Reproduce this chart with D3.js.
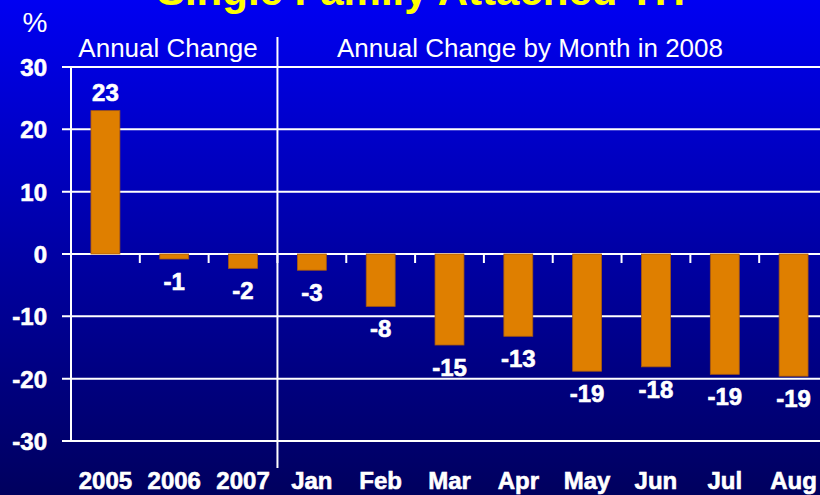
<!DOCTYPE html>
<html>
<head>
<meta charset="utf-8">
<script src="https://cdn.jsdelivr.net/npm/d3@7"></script>
<style>
    html, body { margin: 0; padding: 0; background: #000080; overflow: hidden; }
    svg { display: block; font-family: "Liberation Sans", Arial, sans-serif; }
</style>
</head>
<body>
<div id="chart"></div>
<script>
// Chart data
const categories = ['2005', '2006', '2007', 'Jan', 'Feb', 'Mar', 'Apr', 'May', 'Jun', 'Jul', 'Aug'];
const values = [23, -0.8, -2.3, -2.6, -8.4, -14.6, -13.2, -18.8, -18.1, -19.3, -19.6];
const valueLabels = ['23', '-1', '-2', '-3', '-8', '-15', '-13', '-19', '-18', '-19', '-19'];
const yTicks = [30, 20, 10, 0, -10, -20, -30];
const titleText = 'Single Family Attached TH';
const groupLabels = ['Annual Change', 'Annual Change by Month in 2008'];

const width = 820;
const height = 495;

const svg = d3.select('#chart')
    .append('svg')
    .attr('width', width)
    .attr('height', height);

// Background gradient
const grad = svg.append('defs')
    .append('linearGradient')
    .attr('id', 'bg')
    .attr('x1', 0).attr('y1', 0)
    .attr('x2', 0).attr('y2', 1);
grad.append('stop').attr('offset', '0%').attr('stop-color', '#0000F2');
grad.append('stop').attr('offset', '50%').attr('stop-color', '#0000A6');
grad.append('stop').attr('offset', '100%').attr('stop-color', '#00005E');

svg.append('rect')
    .attr('width', width)
    .attr('height', height)
    .attr('fill', 'url(#bg)');

// Scales
const x = d3.scaleBand()
    .domain(categories)
    .range([71, 828])
    .paddingInner(0.58)
    .paddingOuter(0.29);

const y = d3.scaleLinear()
    .domain([-30, 30])
    .range([441, 67]);

const step = x.step();
const bandStart = d => x(d) - (step - x.bandwidth()) / 2;

// Gridlines
svg.append('g')
    .selectAll('line')
    .data(yTicks)
    .enter()
    .append('line')
    .attr('x1', 62)
    .attr('x2', width)
    .attr('y1', d => y(d))
    .attr('y2', d => y(d))
    .attr('stroke', '#ffffff')
    .attr('stroke-width', 2);

// Y axis line
svg.append('line')
    .attr('x1', 71).attr('x2', 71)
    .attr('y1', y(30)).attr('y2', y(-30))
    .attr('stroke', '#ffffff')
    .attr('stroke-width', 2);

// Divider between annual and monthly
const divX = bandStart('Jan');
svg.append('line')
    .attr('x1', divX).attr('x2', divX)
    .attr('y1', 37).attr('y2', 468)
    .attr('stroke', '#ffffff')
    .attr('stroke-width', 2);

// Tick marks under the zero line
svg.append('g')
    .selectAll('line')
    .data(categories.slice(1))
    .enter()
    .append('line')
    .attr('x1', d => bandStart(d))
    .attr('x2', d => bandStart(d))
    .attr('y1', y(0))
    .attr('y2', y(0) + 9)
    .attr('stroke', '#ffffff')
    .attr('stroke-width', 2);

// Bars
svg.append('g')
    .selectAll('rect')
    .data(values)
    .enter()
    .append('rect')
    .attr('x', (d, i) => x(categories[i]))
    .attr('y', d => y(Math.max(0, d)))
    .attr('width', x.bandwidth())
    .attr('height', d => Math.abs(y(d) - y(0)))
    .attr('fill', '#DF7F00')
    .attr('stroke', '#A85A10')
    .attr('stroke-width', 0.8);

// Value labels
svg.append('g')
    .selectAll('text')
    .data(values)
    .enter()
    .append('text')
    .attr('x', (d, i) => x(categories[i]) + x.bandwidth() / 2)
    .attr('y', d => d >= 0 ? y(d) - 10 : y(d) + 31)
    .attr('text-anchor', 'middle')
    .attr('fill', '#ffffff')
    .attr('stroke', '#ffffff')
    .attr('stroke-width', 0.6)
    .style('font-size', '24px')
    .style('font-weight', 'bold')
    .text((d, i) => valueLabels[i]);

// Y tick labels
svg.append('g')
    .selectAll('text')
    .data(yTicks)
    .enter()
    .append('text')
    .attr('x', 47)
    .attr('y', d => y(d) + 9)
    .attr('text-anchor', 'end')
    .attr('fill', '#ffffff')
    .attr('stroke', '#ffffff')
    .attr('stroke-width', 0.6)
    .style('font-size', '24px')
    .style('font-weight', 'bold')
    .text(d => d);

// Category labels
svg.append('g')
    .selectAll('text')
    .data(categories)
    .enter()
    .append('text')
    .attr('x', d => x(d) + x.bandwidth() / 2)
    .attr('y', 489)
    .attr('text-anchor', 'middle')
    .attr('fill', '#ffffff')
    .attr('stroke', '#ffffff')
    .attr('stroke-width', 0.6)
    .style('font-size', '24px')
    .style('font-weight', 'bold')
    .text(d => d);

// Group headings
svg.append('text')
    .attr('x', 168)
    .attr('y', 57)
    .attr('text-anchor', 'middle')
    .attr('fill', '#ffffff')
    .style('font-size', '26px')
    .text(groupLabels[0]);

svg.append('text')
    .attr('x', 530)
    .attr('y', 57)
    .attr('text-anchor', 'middle')
    .attr('fill', '#ffffff')
    .style('font-size', '26px')
    .text(groupLabels[1]);

// Unit label
svg.append('text')
    .attr('x', 35)
    .attr('y', 32)
    .attr('text-anchor', 'middle')
    .attr('fill', '#ffffff')
    .style('font-size', '28px')
    .text('%');

// Title (partly cut off at the top)
svg.append('text')
    .attr('x', 421)
    .attr('y', 5)
    .attr('text-anchor', 'middle')
    .attr('fill', '#FFFF00')
    .style('font-size', '42px')
    .style('font-weight', 'bold')
    .text(titleText);
</script>
</body>
</html>
